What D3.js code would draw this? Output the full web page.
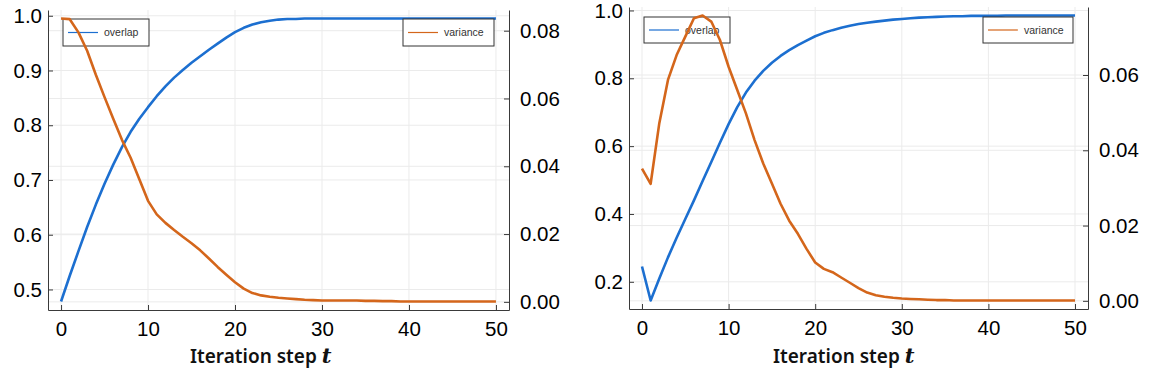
<!DOCTYPE html>
<html>
<head>
<meta charset="utf-8">
<script src="https://cdn.jsdelivr.net/npm/d3@7"></script>
<style>
  body { margin: 0; background: #fff; }
  svg { display: block; }
  .tick text { font-family: "Liberation Sans", Arial, sans-serif; }
</style>
</head>
<body>
<script>
// iteration steps 0..50
steps = d3.range(0, 51)

overlapA = [0.478, 0.525, 0.570, 0.614, 0.655, 0.693, 0.728, 0.760, 0.788, 0.812,
  0.833, 0.853, 0.871, 0.887, 0.901, 0.914, 0.926, 0.938, 0.949, 0.960,
  0.970, 0.978, 0.984, 0.988, 0.991, 0.993, 0.994, 0.994, 0.995, 0.995,
  0.995, 0.995, 0.995, 0.995, 0.995, 0.995, 0.995, 0.995, 0.995, 0.995,
  0.995, 0.995, 0.995, 0.995, 0.995, 0.995, 0.995, 0.995, 0.995, 0.995, 0.995]

varianceA = [0.0836, 0.0834, 0.0795, 0.0741, 0.0670, 0.0604, 0.0540, 0.0478, 0.0425, 0.0362,
  0.0298, 0.0258, 0.0233, 0.0212, 0.0192, 0.0173, 0.0152, 0.0128, 0.0103, 0.0080,
  0.0058, 0.0039, 0.0026, 0.0019, 0.0015, 0.0012, 0.0010, 0.0008, 0.0006, 0.0005,
  0.0004, 0.0004, 0.0004, 0.0004, 0.0004, 0.0003, 0.0003, 0.0002, 0.0002, 0.0001,
  0.0001, 0.0001, 0.0001, 0.0001, 0.0001, 0.0001, 0.0001, 0.0001, 0.0001, 0.0001, 0.0001]

overlapB = [0.245, 0.145, 0.210, 0.272, 0.330, 0.385, 0.440, 0.497, 0.553, 0.610,
  0.665, 0.715, 0.758, 0.793, 0.822, 0.846, 0.866, 0.883, 0.898, 0.911,
  0.924, 0.934, 0.942, 0.949, 0.955, 0.960, 0.964, 0.967, 0.970, 0.973,
  0.975, 0.977, 0.979, 0.980, 0.981, 0.982, 0.983, 0.983, 0.984, 0.984,
  0.984, 0.984, 0.985, 0.985, 0.985, 0.985, 0.985, 0.985, 0.985, 0.985, 0.985]

varianceB = [0.0351, 0.0311, 0.0472, 0.0587, 0.0653, 0.0702, 0.0751, 0.0758, 0.0742, 0.0693,
  0.0622, 0.0560, 0.0498, 0.0427, 0.0365, 0.0312, 0.0258, 0.0213, 0.0178, 0.0138,
  0.0102, 0.0085, 0.0076, 0.0062, 0.0048, 0.0034, 0.0022, 0.0015, 0.0011, 0.0008,
  0.0006, 0.0005, 0.0004, 0.0003, 0.0002, 0.0002, 0.0001, 0.0001, 0.0001, 0.0001,
  0.0001, 0.0001, 0.0001, 0.0001, 0.0001, 0.0001, 0.0001, 0.0001, 0.0001, 0.0001, 0.0001]

xTicks = [0, 10, 20, 30, 40, 50]
leftTicksA = [0.5, 0.6, 0.7, 0.8, 0.9, 1.0]
rightTicksA = [0.00, 0.02, 0.04, 0.06, 0.08]
leftTicksB = [0.2, 0.4, 0.6, 0.8, 1.0]
rightTicksB = [0.00, 0.02, 0.04, 0.06]

blue = "#1c6fd0"
orange = "#d4661b"
gridColor = "#ebebeb"
axisColor = "#3a3a3a"

width = 1149
height = 371

var svg = d3.select("body").append("svg")
  .attr("width", width)
  .attr("height", height)

// pad a domain 3% each side like Plots.jl does
function widen(ext) {
  var p = (ext[1] - ext[0]) * 0.03
  return [ext[0] - p, ext[1] + p]
}

function drawPanel(cfg) {
  var x = d3.scaleLinear().domain(widen(d3.extent(steps))).range([cfg.left, cfg.right])
  var yL = d3.scaleLinear().domain(widen(d3.extent(cfg.overlap))).range([cfg.bottom, cfg.top])
  var yR = d3.scaleLinear().domain(widen(d3.extent(cfg.variance))).range([cfg.bottom, cfg.top])

  var g = svg.append("g")

  // grid lines (both y axes get their own)
  g.append("g").selectAll("line").data(xTicks).join("line")
    .attr("x1", d => x(d)).attr("x2", d => x(d))
    .attr("y1", cfg.top).attr("y2", cfg.bottom)
    .attr("stroke", gridColor)
  g.append("g").selectAll("line").data(cfg.leftTicks).join("line")
    .attr("x1", cfg.left).attr("x2", cfg.right)
    .attr("y1", d => yL(d)).attr("y2", d => yL(d))
    .attr("stroke", gridColor)
  g.append("g").selectAll("line").data(cfg.rightTicks).join("line")
    .attr("x1", cfg.left).attr("x2", cfg.right)
    .attr("y1", d => yR(d)).attr("y2", d => yR(d))
    .attr("stroke", gridColor)

  var line = yScale => d3.line().x((d, i) => x(steps[i])).y(d => yScale(d))

  g.append("path")
    .datum(cfg.overlap)
    .attr("fill", "none")
    .attr("stroke", blue)
    .attr("stroke-width", 2.6)
    .attr("stroke-linejoin", "round")
    .attr("d", line(yL))

  legend(g, cfg.legend1, "overlap", blue)

  g.append("path")
    .datum(cfg.variance)
    .attr("fill", "none")
    .attr("stroke", orange)
    .attr("stroke-width", 2.6)
    .attr("stroke-linejoin", "round")
    .attr("d", line(yR))

  legend(g, cfg.legend2, "variance", orange)

  // axes
  var xAxis = d3.axisBottom(x).tickValues(xTicks).tickSizeInner(-5).tickSizeOuter(0).tickPadding(12)
  var leftAxis = d3.axisLeft(yL).tickValues(cfg.leftTicks).tickFormat(d3.format(".1f"))
    .tickSizeInner(-5).tickSizeOuter(0).tickPadding(6)
  var rightAxis = d3.axisRight(yR).tickValues(cfg.rightTicks).tickFormat(d3.format(".2f"))
    .tickSizeInner(-5).tickSizeOuter(0).tickPadding(11)

  var styleAxis = a => {
    a.select(".domain").attr("stroke", axisColor)
    a.selectAll(".tick line").attr("stroke", axisColor)
    a.selectAll(".tick text").attr("font-size", 20.5).attr("fill", "#000")
  }

  g.append("g").attr("transform", `translate(0,${cfg.bottom})`).call(xAxis).call(styleAxis)
    .selectAll(".tick text").attr("dy", "0.68em")
  g.append("g").attr("transform", `translate(${cfg.left},0)`).call(leftAxis).call(styleAxis)
  g.append("g").attr("transform", `translate(${cfg.right},0)`).call(rightAxis).call(styleAxis)

  // x label with italic t
  var lab = g.append("text")
    .attr("x", cfg.labelX)
    .attr("y", 363)
    .attr("font-family", "'Noto Sans', 'Liberation Sans', sans-serif")
    .attr("font-weight", "600")
    .attr("font-size", 19)
    .attr("fill", "#111")
  lab.append("tspan").text("Iteration step ")
  lab.append("tspan")
    .attr("font-family", "'DejaVu Serif', 'Liberation Serif', serif")
    .attr("font-style", "italic")
    .attr("font-weight", "bold")
    .attr("font-size", 21)
    .text("t")
}

function legend(g, box, name, color) {
  var lg = g.append("g").attr("transform", `translate(${box[0]},${box[1]})`)
  lg.append("rect")
    .attr("width", box[2]).attr("height", box[3])
    .attr("fill", "#fff")
    .attr("stroke", "#333")
    .attr("stroke-width", 1)
  lg.append("line")
    .attr("x1", 5).attr("x2", 35)
    .attr("y1", box[3] / 2).attr("y2", box[3] / 2)
    .attr("stroke", color)
    .attr("stroke-width", 1.2)
  lg.append("text")
    .attr("x", 41).attr("y", box[3] / 2)
    .attr("dy", "0.35em")
    .attr("font-family", "'Liberation Sans', Arial, sans-serif")
    .attr("font-size", 10.5)
    .attr("fill", "#333")
    .text(name)
}

drawPanel({
  left: 48, right: 509, top: 10, bottom: 310,
  overlap: overlapA, variance: varianceA,
  leftTicks: leftTicksA, rightTicks: rightTicksA,
  legend1: [63, 19, 86, 27],
  legend2: [403, 19, 91, 27],
  labelX: 190
})

drawPanel({
  left: 629, right: 1088, top: 7, bottom: 309,
  overlap: overlapB, variance: varianceB,
  leftTicks: leftTicksB, rightTicks: rightTicksB,
  legend1: [644, 17, 86, 26],
  legend2: [983, 17, 90, 26],
  labelX: 773
})
</script>
</body>
</html>
